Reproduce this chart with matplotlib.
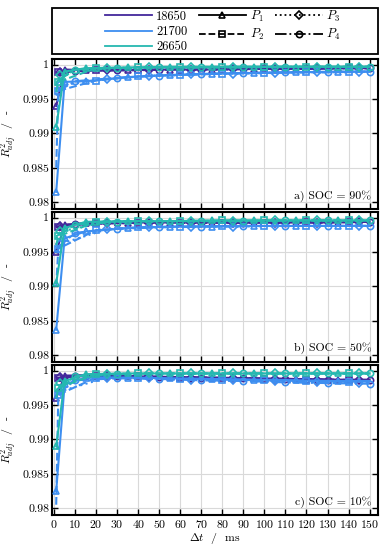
import matplotlib
matplotlib.use("Agg")
import matplotlib.pyplot as plt
from matplotlib.lines import Line2D
from matplotlib.patches import Rectangle
from matplotlib.ticker import MultipleLocator, FuncFormatter

plt.rcParams['font.family'] = ['cmr10', 'DejaVu Serif']
plt.rcParams['mathtext.fontset'] = 'cm'
plt.rcParams['axes.formatter.use_mathtext'] = True
plt.rcParams['font.size'] = 8.5

# delta t positions where each parameter set was sampled
dt_p1 = [1, 5, 15, 35, 55, 75, 95, 115, 135, 150]
dt_p2 = [1, 2, 20, 40, 60, 80, 100, 120, 140, 150]
dt_p3 = [1, 3, 25, 45, 65, 85, 105, 125, 145, 150]
dt_p4 = [1, 10, 30, 50, 70, 90, 110, 130, 150]

cells = ['18650', '21700', '26650']
cell_colors = ['#43279b', '#3d8ef0', '#25b8b0']
p_labels = ['$P_1$', '$P_2$', '$P_3$', '$P_4$']
p_markers = ['^', 's', 'D', 'o']
p_styles = ['-', '--', ':', '-.']

# SOC = 90 %
soc90_18650 = [
    [0.9940, 0.9993, 0.9992, 0.9992, 0.9993, 0.9993, 0.9994, 0.9994, 0.9995, 0.9995],
    [0.9985, 0.9989, 0.9992, 0.9992, 0.9993, 0.9993, 0.9994, 0.9994, 0.9995, 0.9995],
    [0.9986, 0.9990, 0.9992, 0.9993, 0.9993, 0.9994, 0.9994, 0.9995, 0.9995, 0.9995],
    [0.9987, 0.9991, 0.9992, 0.9993, 0.9993, 0.9994, 0.9994, 0.9995, 0.9995],
]
soc90_21700 = [
    [0.9815, 0.9975, 0.9976, 0.9982, 0.9985, 0.9987, 0.9988, 0.9989, 0.9990, 0.9990],
    [0.9850, 0.9962, 0.9977, 0.9983, 0.9985, 0.9987, 0.9988, 0.9989, 0.9989, 0.9990],
    [0.9955, 0.9970, 0.9979, 0.9984, 0.9986, 0.9987, 0.9988, 0.9989, 0.9990, 0.9990],
    [0.9960, 0.9976, 0.9981, 0.9984, 0.9986, 0.9988, 0.9989, 0.9989, 0.9990],
]
soc90_26650 = [
    [0.9910, 0.9990, 0.9995, 0.9996, 0.9997, 0.9997, 0.9997, 0.9997, 0.9997, 0.9997],
    [0.9960, 0.9975, 0.9995, 0.9996, 0.9996, 0.9997, 0.9997, 0.9997, 0.9997, 0.9997],
    [0.9972, 0.9985, 0.9995, 0.9996, 0.9996, 0.9996, 0.9997, 0.9997, 0.9997, 0.9997],
    [0.9975, 0.9993, 0.9995, 0.9996, 0.9996, 0.9996, 0.9997, 0.9997, 0.9997],
]

# SOC = 50 %
soc50_18650 = [
    [0.9950, 0.9990, 0.9992, 0.9993, 0.9993, 0.9993, 0.9993, 0.9993, 0.9993, 0.9994],
    [0.9985, 0.9987, 0.9992, 0.9993, 0.9993, 0.9993, 0.9993, 0.9994, 0.9994, 0.9994],
    [0.9986, 0.9988, 0.9992, 0.9992, 0.9993, 0.9993, 0.9993, 0.9993, 0.9994, 0.9994],
    [0.9987, 0.9991, 0.9992, 0.9993, 0.9993, 0.9993, 0.9993, 0.9994, 0.9994],
]
soc50_21700 = [
    [0.9837, 0.9970, 0.9980, 0.9985, 0.9987, 0.9987, 0.9988, 0.9988, 0.9988, 0.9988],
    [0.9900, 0.9955, 0.9982, 0.9986, 0.9987, 0.9988, 0.9988, 0.9988, 0.9988, 0.9988],
    [0.9950, 0.9962, 0.9983, 0.9986, 0.9987, 0.9987, 0.9988, 0.9988, 0.9988, 0.9988],
    [0.9955, 0.9978, 0.9984, 0.9986, 0.9987, 0.9988, 0.9988, 0.9988, 0.9988],
]
soc50_26650 = [
    [0.9905, 0.9985, 0.9994, 0.9995, 0.9995, 0.9996, 0.9996, 0.9996, 0.9996, 0.9996],
    [0.9960, 0.9973, 0.9994, 0.9995, 0.9995, 0.9996, 0.9996, 0.9996, 0.9996, 0.9996],
    [0.9970, 0.9980, 0.9994, 0.9995, 0.9995, 0.9995, 0.9996, 0.9996, 0.9996, 0.9996],
    [0.9973, 0.9990, 0.9994, 0.9995, 0.9995, 0.9995, 0.9996, 0.9996, 0.9996],
]

# SOC = 10 %
soc10_18650 = [
    [0.9960, 0.9993, 0.9993, 0.9992, 0.9991, 0.9990, 0.9989, 0.9988, 0.9987, 0.9987],
    [0.9988, 0.9990, 0.9993, 0.9992, 0.9990, 0.9989, 0.9988, 0.9987, 0.9986, 0.9986],
    [0.9987, 0.9991, 0.9993, 0.9991, 0.9990, 0.9989, 0.9988, 0.9987, 0.9986, 0.9986],
    [0.9988, 0.9993, 0.9993, 0.9991, 0.9990, 0.9989, 0.9988, 0.9987, 0.9986],
]
soc10_21700 = [
    [0.9825, 0.9980, 0.9990, 0.9990, 0.9989, 0.9988, 0.9987, 0.9986, 0.9985, 0.9985],
    [0.9805, 0.9965, 0.9990, 0.9989, 0.9988, 0.9987, 0.9986, 0.9985, 0.9984, 0.9984],
    [0.9962, 0.9970, 0.9990, 0.9989, 0.9987, 0.9986, 0.9985, 0.9983, 0.9982, 0.9982],
    [0.9965, 0.9986, 0.9989, 0.9988, 0.9986, 0.9985, 0.9983, 0.9982, 0.9981],
]
soc10_26650 = [
    [0.9890, 0.9985, 0.9995, 0.9996, 0.9996, 0.9996, 0.9996, 0.9996, 0.9996, 0.9996],
    [0.9960, 0.9975, 0.9995, 0.9996, 0.9996, 0.9996, 0.9996, 0.9996, 0.9996, 0.9996],
    [0.9970, 0.9982, 0.9995, 0.9996, 0.9996, 0.9996, 0.9996, 0.9996, 0.9996, 0.9996],
    [0.9972, 0.9992, 0.9995, 0.9996, 0.9996, 0.9996, 0.9996, 0.9996, 0.9996],
]

panels = [
    ('a) SOC = 90%', [soc90_18650, soc90_21700, soc90_26650]),
    ('b) SOC = 50%', [soc50_18650, soc50_21700, soc50_26650]),
    ('c) SOC = 10%', [soc10_18650, soc10_21700, soc10_26650]),
]
dts = [dt_p1, dt_p2, dt_p3, dt_p4]

fig = plt.figure(figsize=(3.88, 5.5), dpi=100)
left, right = 52 / 388, 378 / 388
tops = [59, 212, 365]
h = 150

axes = []
for k, (title, data) in enumerate(panels):
    ax = fig.add_axes([left, 1 - (tops[k] + h) / 550, right - left, h / 550])
    axes.append(ax)
    for ci, cell in enumerate(data):
        for pi, vals in enumerate(cell):
            x = dts[pi]
            if pi == 3:
                mk = list(range(1, len(x)))
            elif pi == 2:
                mk = list(range(1, len(x) - 1))
            elif pi == 1:
                mk = list(range(1, len(x) - 1))
            else:
                mk = list(range(len(x) - 1))
            ax.plot(x, vals, color=cell_colors[ci], ls=p_styles[pi], lw=1.5,
                    marker=p_markers[pi], markevery=mk, ms=4.5 if pi != 2 else 3.8,
                    mfc='none', mew=1.2, zorder=3 + ci)
    ax.set_xlim(-1, 154)
    ax.set_ylim(0.979, 1.00083)
    ax.xaxis.set_major_locator(MultipleLocator(10))
    ax.yaxis.set_major_locator(MultipleLocator(0.005))
    ax.yaxis.set_major_formatter(FuncFormatter(lambda v, p: '%g' % round(v, 4)))
    ax.grid(True, color='#d9d9d9', lw=0.8)
    ax.set_axisbelow(True)
    ax.tick_params(direction='in', top=True, right=True, length=4, width=1.0, pad=2)
    for s in ax.spines.values():
        s.set_linewidth(1.5)
    ax.set_ylabel(r'$R^2_{adj}$  /  -')
    ax.yaxis.set_label_coords(-0.10, 0.5)
    ax.text(0.98, 0.05, title, transform=ax.transAxes, ha='right', va='bottom', fontsize=8.5)
    if k < 2:
        ax.tick_params(labelbottom=False)

axes[-1].set_xlabel(r'$\Delta t$  /  ms', labelpad=1)

# legend box on top
fig.patches.append(Rectangle((left, 1 - 54 / 550), right - left, 46 / 550,
                             transform=fig.transFigure, fill=False, ec='black', lw=1.3))
handles = [Line2D([], [], color=c, lw=1.3) for c in cell_colors]
handles += [Line2D([], [], color='black', ls=p_styles[i], marker=p_markers[i], lw=1.3,
                   ms=4.5 if i != 2 else 3.8, mfc='none', mew=1.2) for i in range(4)]
labels = cells + p_labels
fig.legend(handles, labels, ncol=3, loc='center', frameon=False,
           bbox_to_anchor=((left + right) / 2 + 0.02, 1 - 31 / 550),
           fontsize=9, handlelength=3.8, handletextpad=0.3, columnspacing=0.9,
           labelspacing=0.25, borderpad=0)

fig.savefig('out.png', dpi=100)
